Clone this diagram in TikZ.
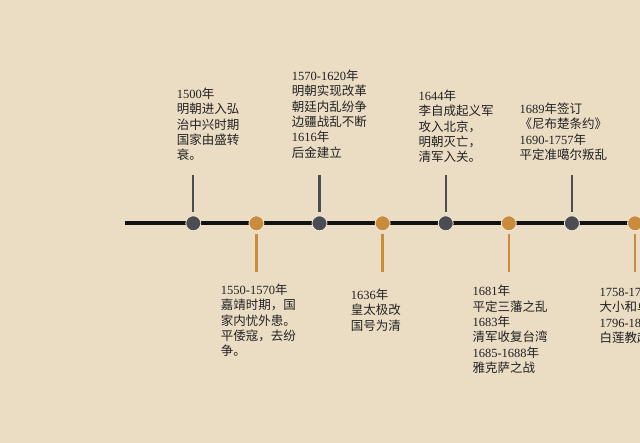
\documentclass[tikz,border=0pt]{standalone}
\usepackage{fontspec}
\setmainfont{Noto Sans CJK SC}
\newfontfamily\lat{Liberation Serif}
\newcommand\N[1]{{\lat #1}}
\definecolor{bg}{HTML}{EBDCC4}
\definecolor{darkdot}{HTML}{4B4D53}
\definecolor{orangedot}{HTML}{C98B3C}
\definecolor{txtcol}{HTML}{222222}
\tikzset{
  txt/.style={anchor=north west, inner sep=0pt, align=left, text=txtcol,
    font=\fontsize{12.5}{15.4}\selectfont},
  ddot/.style={circle, fill=darkdot, draw=bg!60!white, line width=0.8pt, minimum size=15pt, inner sep=0pt},
  odot/.style={circle, fill=orangedot, draw=bg!60!white, line width=0.8pt, minimum size=15pt, inner sep=0pt},
  uptick/.style={draw=darkdot, line width=2.3pt},
  downtick/.style={draw=orangedot, line width=2.5pt},
  mainline/.style={draw=black!93, line width=4.3pt}
}
\begin{document}
\begin{tikzpicture}[x=1pt,y=-1pt]
\useasboundingbox (0,0) rectangle (640,443);
\clip (0,0) rectangle (640,443);
\fill[bg] (0,0) rectangle (640,443);
% main line
\coordinate (L0) at (125,223.3);
\coordinate (L1) at (660,223.3);
\draw[mainline] (L0) -- (L1);
% ticks
\foreach \i/\x in {1/193.3,3/319.5,5/445.7,7/571.9}{
  \coordinate (a\i) at (\x,175);
  \coordinate (b\i) at (\x,212);
  \draw[uptick] (a\i) -- (b\i);
}
\foreach \i/\x in {2/256.4,4/382.6,6/508.8,8/635}{
  \coordinate (a\i) at (\x,234);
  \coordinate (b\i) at (\x,272);
  \draw[downtick] (a\i) -- (b\i);
}
% dots
\node[ddot] (c1) at (193.3,223.3) {};
\node[odot] (c2) at (256.4,223.3) {};
\node[ddot] (c3) at (319.5,223.3) {};
\node[odot] (c4) at (382.6,223.3) {};
\node[ddot] (c5) at (445.7,223.3) {};
\node[odot] (c6) at (508.8,223.3) {};
\node[ddot] (c7) at (571.9,223.3) {};
\node[odot] (c8) at (635,223.3) {};
% texts above
\node[txt] (t1) at (176.7,87.5) {\N{1500}年\\明朝进入弘\\治中兴时期\\国家由盛转\\衰。};
\node[txt] (t3) at (291.7,69.5) {\N{1570-1620}年\\明朝实现改革\\朝廷内乱纷争\\边疆战乱不断\\\N{1616}年\\后金建立};
\node[txt] (t5) at (418.3,89.5) {\N{1644}年\\李自成起义军\\攻入北京，\\明朝灭亡，\\清军入关。};
\node[txt] (t7) at (519.3,102.5) {\N{1689}年签订\\《尼布楚条约》\\\N{1690-1757}年\\平定准噶尔叛乱};
% texts below
\node[txt] (t2) at (220.7,283.5) {\N{1550-1570}年\\嘉靖时期，国\\家内忧外患。\\平倭寇，去纷\\争。};
\node[txt] (t4) at (350.7,288.5) {\N{1636}年\\皇太极改\\国号为清};
\node[txt] (t6) at (472.3,285) {\N{1681}年\\平定三藩之乱\\\N{1683}年\\清军收复台湾\\\N{1685-1688}年\\雅克萨之战};
\node[txt] (t8) at (599.3,285.5) {\N{1758-1759}年\\大小和卓叛乱\\\N{1796-1804}年\\白莲教起义};
\end{tikzpicture}
\end{document}
